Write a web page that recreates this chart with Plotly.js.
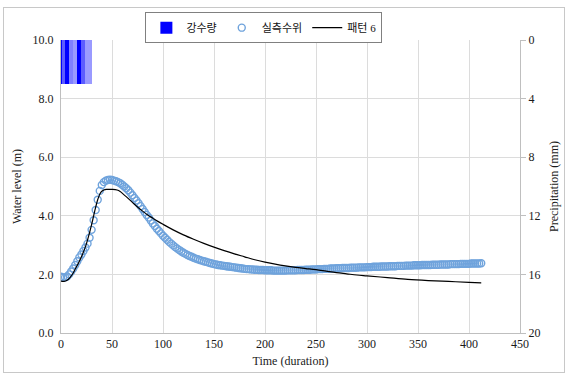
<!DOCTYPE html>
<html>
<head>
<meta charset="utf-8">
<script src="https://cdn.plot.ly/plotly-3.0.1.min.js"></script>
<style>
html,body{margin:0;padding:0;background:#fff;}
#wrap{position:relative;width:568px;height:376px;}
#chart{width:568px;height:376px;}
#frame{position:absolute;left:3px;top:7px;width:562px;height:366px;border:1px solid #c8c8c8;pointer-events:none;box-sizing:border-box;}
</style>
</head>
<body>
<div id="wrap"><div id="chart"></div><div id="frame"></div></div>
<script>
// Precipitation (mm), one bar per time step
const rainTime = [0.5,1.5,2.5,3.5,4.5,5.5,6.5,7.5,8.5,9.5,10.5,11.5,12.5,13.5,14.5,15.5,16.5,17.5,18.5,19.5,20.5,21.5,22.5,23.5,24.5,25.5,26.5,27.5,28.5,29.5];
const rainValue = [3,3,3,3,3,3,3,3,3,3,3,3,3,3,3,3,3,3,3,3,3,3,3,3,3,3,3,3,3,3];

// Observed water level (m), every 2 time steps from 0 to 412
const obsLevel = [
1.92,1.90,1.90,1.93,2.00,2.10,2.20,2.32,2.45,2.58,
2.68,2.80,2.92,3.05,3.25,3.52,3.85,4.20,4.55,4.85,
5.05,5.15,5.20,5.22,5.23,5.22,5.20,5.18,5.15,5.11,
5.06,5.00,4.94,4.87,4.79,4.70,4.61,4.52,4.43,4.33,
4.23,4.13,4.03,3.94,3.84,3.74,3.65,3.56,3.48,3.40,
3.32,3.25,3.18,3.11,3.05,2.99,2.93,2.88,2.83,2.78,
2.74,2.70,2.66,2.63,2.60,2.57,2.54,2.52,2.49,2.47,
2.45,2.43,2.41,2.39,2.37,2.35,2.34,2.32,2.31,2.30,
2.29,2.28,2.27,2.26,2.25,2.24,2.23,2.22,2.21,2.20,
2.19,2.18,2.18,2.17,2.17,2.16,2.16,2.15,2.15,2.15,
2.14,2.14,2.14,2.14,2.13,2.13,2.13,2.13,2.13,2.13,
2.13,2.14,2.14,2.14,2.14,2.14,2.15,2.15,2.15,2.15,
2.16,2.16,2.16,2.17,2.17,2.17,2.18,2.18,2.18,2.19,
2.19,2.19,2.20,2.20,2.20,2.21,2.21,2.21,2.22,2.22,
2.22,2.22,2.23,2.23,2.23,2.23,2.24,2.24,2.24,2.24,
2.25,2.25,2.25,2.26,2.26,2.26,2.26,2.27,2.27,2.27,
2.27,2.28,2.28,2.28,2.28,2.29,2.29,2.29,2.29,2.30,
2.30,2.30,2.30,2.31,2.31,2.31,2.31,2.32,2.32,2.32,
2.32,2.32,2.33,2.33,2.33,2.33,2.34,2.34,2.34,2.34,
2.34,2.35,2.35,2.35,2.35,2.35,2.36,2.36,2.36,2.36,
2.36,2.37,2.37,2.37,2.37,2.37,2.38];
const obsTime = obsLevel.map((_, i) => i * 2);

// Pattern 6 simulated water level (m)
const simTime  = [0,3,6,9,12,15,18,21,24,27,30,33,36,39,42,45,50,55,58,61,65,70,75,80,85,90,95,100,110,120,130,140,150,160,170,180,190,200,210,220,230,240,250,260,270,280,290,300,320,340,360,380,400,412];
const simLevel = [1.77,1.76,1.80,1.90,2.05,2.25,2.45,2.68,2.95,3.30,3.70,4.15,4.55,4.80,4.88,4.90,4.90,4.88,4.83,4.74,4.62,4.46,4.30,4.16,4.03,3.92,3.81,3.71,3.52,3.35,3.20,3.06,2.93,2.81,2.70,2.60,2.50,2.42,2.35,2.29,2.24,2.20,2.16,2.11,2.06,2.02,1.98,1.95,1.89,1.83,1.79,1.76,1.73,1.71];

const xTicks = [0,50,100,150,200,250,300,350,400,450];
const yTicks = [0,2,4,6,8,10];
const y2Ticks = [0,4,8,12,16,20];

const labels = {rain: '강수량', obs: '실측수위', sim: '패턴 6'};

const stripe = ['#0000ff','#5c5cff','#5c5cff','#5c5cff','#0000ff','#0000ff','#0000ff','#0000ff','#8080ff','#8080ff','#8080ff','#8080ff','#9a9aff','#9a9aff','#9a9aff','#9a9aff','#0000ff','#0000ff','#0000ff','#0000ff','#5c5cff','#5c5cff','#5c5cff','#5c5cff','#9a9aff','#9a9aff','#9a9aff','#9a9aff','#9a9aff','#9a9aff'];

const serif = "'Liberation Serif', 'Times New Roman', serif";
const legendFont = "'Liberation Serif', 'Noto Sans CJK KR', serif";
const tickCol = '#1a1a1a';

const traces = [
  {type:'bar', x: rainTime, y: rainValue, yaxis:'y2', name: labels.rain,
   width: 1, marker:{color: stripe, line:{width:0}}, showlegend:true},
  {type:'scatter', mode:'markers', x: obsTime, y: obsLevel, name: labels.obs,
   marker:{symbol:'circle-open', size:7, color:'#6fa3dc', line:{width:1.4}}},
  {type:'scatter', mode:'lines', x: simTime, y: simLevel, name: labels.sim,
   line:{color:'#000', width:1.2, shape:'spline'}}
];

const layout = {
  width:568, height:376,
  margin:{l:61, r:48, t:38, b:43},
  paper_bgcolor:'#fff', plot_bgcolor:'#fff',
  font:{family: serif, size:11, color:tickCol},
  bargap:0,
  showlegend:true,
  legend:{orientation:'h', x:0.442, xanchor:'center', y:1.095, yanchor:'top',
    bgcolor:'#fff', bordercolor:'#808080', borderwidth:1,
    font:{family: legendFont, size:11, color:'#111'},
    itemwidth:30, tracegroupgap:0, traceorder:'normal'},
  xaxis:{range:[0,450], tickvals:xTicks, ticktext:xTicks.map(String),
    showgrid:true, gridcolor:'#dcdcdc', gridwidth:1,
    showline:true, linecolor:'#bfbfbf', linewidth:1, zeroline:false, ticks:'',
    tickfont:{family:serif, size:12, color:tickCol},
    title:{text:'Time (duration)', font:{family:serif, size:12, color:tickCol}, standoff:6}},
  yaxis:{range:[0,10], tickvals:yTicks, ticktext:yTicks.map(v=>v.toFixed(1)),
    showgrid:true, gridcolor:'#dcdcdc', gridwidth:1,
    showline:true, linecolor:'#bfbfbf', linewidth:1, zeroline:false, ticks:'',
    ticklabelstandoff:4,
    tickfont:{family:serif, size:12, color:tickCol},
    title:{text:'Water level (m)', font:{family:serif, size:12, color:tickCol}, standoff:8}},
  yaxis2:{range:[20,0], overlaying:'y', side:'right', tickvals:y2Ticks, ticktext:y2Ticks.map(String),
    showgrid:false, showline:true, linecolor:'#bfbfbf', linewidth:1, zeroline:false,
    ticks:'outside', ticklen:5, tickcolor:'#bfbfbf',
    tickfont:{family:serif, size:12, color:tickCol},
    title:{text:'Precipitation (mm)', font:{family:serif, size:12, color:tickCol}, standoff:10}}
};

Plotly.newPlot('chart', traces, layout, {displayModeBar:false, staticPlot:true});
</script>
</body>
</html>
